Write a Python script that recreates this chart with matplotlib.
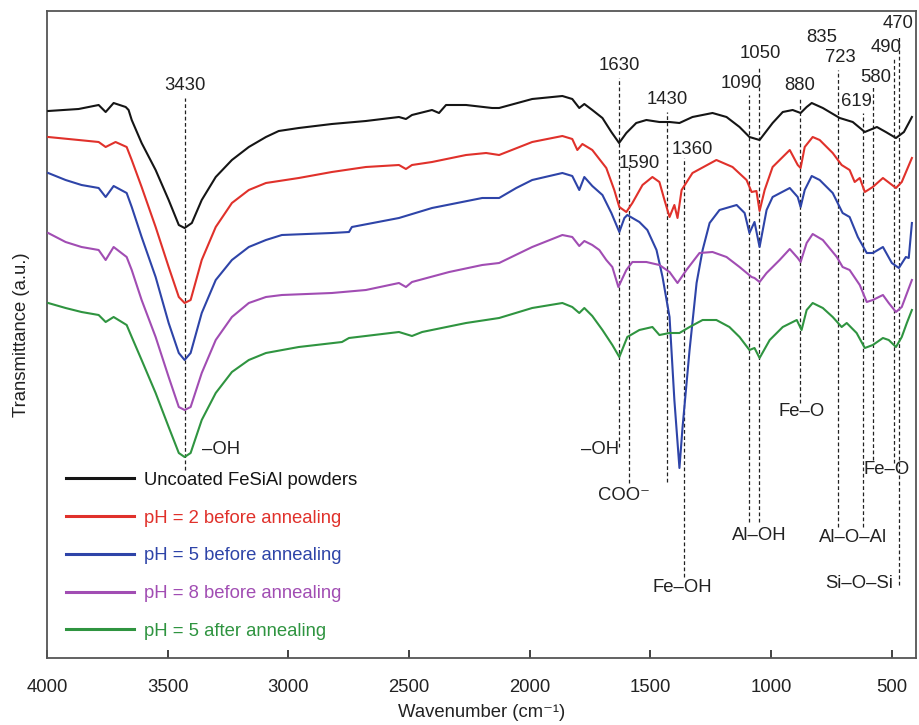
import matplotlib
matplotlib.use("Agg")
import matplotlib.pyplot as plt

plt.rcParams['font.family'] = ['Liberation Sans', 'DejaVu Sans']

# ---------------- data (wavenumber, transmittance a.u.) ----------------
wn_uncoated = [3995, 3869, 3786, 3757, 3724, 3674, 3662, 3649, 3608, 3550, 3496, 3454, 3430, 3400,
               3359, 3301, 3234, 3164, 3093, 3040, 2957, 2820, 2679, 2542, 2513, 2488, 2405, 2376,
               2347, 2264, 2156, 2127, 1990, 1865, 1824, 1795, 1774, 1741, 1699, 1662, 1630, 1600,
               1559, 1517, 1463, 1421, 1380, 1326, 1243, 1185, 1131, 1090, 1048, 994, 952, 911,
               878, 853, 832, 786, 716, 662, 612, 562, 525, 483, 450, 430, 417]
t_uncoated = [547, 549, 553, 546, 555, 551, 548, 538, 515, 488, 458, 433, 430, 435,
              458, 481, 498, 511, 521, 527, 530, 534, 537, 541, 539, 543, 548, 545,
              553, 553, 550, 550, 559, 562, 559, 550, 554, 548, 540, 526, 515, 525,
              535, 538, 536, 536, 535, 541, 545, 541, 531, 521, 518, 535, 546, 548,
              545, 551, 555, 550, 540, 536, 526, 531, 526, 520, 526, 535, 541]

wn_ph2 = [3995, 3869, 3786, 3757, 3716, 3670, 3649, 3608, 3550, 3496, 3454, 3430, 3405, 3359,
          3301, 3234, 3164, 3093, 2957, 2820, 2679, 2542, 2513, 2488, 2405, 2264, 2181, 2127,
          1990, 1865, 1824, 1803, 1782, 1741, 1683, 1650, 1629, 1600, 1575, 1533, 1492, 1463,
          1442, 1421, 1401, 1388, 1371, 1326, 1227, 1160, 1102, 1081, 1061, 1048, 1027, 994,
          923, 890, 878, 861, 828, 799, 745, 708, 675, 654, 633, 612, 579, 537, 483, 459, 417]
t_ph2 = [521, 518, 516, 511, 516, 511, 498, 471, 431, 391, 361, 355, 358, 398,
         431, 455, 468, 475, 480, 486, 491, 493, 489, 493, 496, 503, 505, 503,
         516, 522, 519, 508, 514, 508, 490, 468, 451, 446, 455, 473, 481, 476,
         458, 441, 453, 440, 468, 485, 498, 491, 478, 466, 467, 447, 468, 491,
         508, 493, 490, 511, 521, 518, 505, 493, 488, 476, 480, 466, 471, 480, 470, 476, 500]

wn_ph5 = [3995, 3923, 3857, 3786, 3757, 3724, 3670, 3649, 3608, 3550, 3496, 3454, 3430, 3405,
          3359, 3301, 3234, 3164, 3093, 3027, 2820, 2749, 2737, 2542, 2405, 2197, 2127, 2056,
          1990, 1865, 1824, 1795, 1774, 1741, 1699, 1662, 1629, 1608, 1596, 1546, 1513, 1475,
          1450, 1421, 1401, 1380, 1367, 1338, 1309, 1284, 1255, 1214, 1143, 1110, 1090, 1069,
          1048, 1019, 994, 923, 890, 878, 861, 832, 799, 745, 704, 675, 641, 604, 579, 537,
          500, 471, 442, 430, 417]
t_ph5 = [485, 478, 473, 470, 461, 472, 465, 451, 421, 381, 335, 305, 298, 305,
         345, 378, 398, 411, 418, 423, 425, 426, 431, 440, 450, 460, 460, 470,
         478, 485, 482, 468, 481, 472, 463, 445, 426, 440, 443, 436, 428, 408,
         381, 341, 258, 190, 231, 308, 375, 408, 435, 448, 453, 445, 425, 436,
         411, 448, 461, 470, 461, 451, 468, 482, 478, 465, 445, 441, 421, 405, 405, 411,
         395, 390, 401, 400, 435]

wn_ph8 = [3995, 3923, 3857, 3786, 3757, 3724, 3670, 3649, 3608, 3550, 3496, 3454, 3430, 3405,
          3359, 3301, 3234, 3164, 3093, 3027, 2820, 2679, 2542, 2513, 2488, 2334, 2197, 2127,
          1990, 1865, 1824, 1795, 1774, 1741, 1712, 1683, 1658, 1633, 1600, 1575, 1517, 1463,
          1421, 1388, 1351, 1297, 1243, 1185, 1131, 1081, 1069, 1048, 1019, 965, 923, 890,
          878, 853, 828, 786, 728, 704, 675, 633, 604, 579, 537, 513, 483, 459, 417]
t_ph8 = [425, 416, 411, 408, 398, 411, 401, 388, 358, 321, 281, 251, 248, 251,
         285, 318, 341, 355, 361, 363, 365, 368, 375, 371, 376, 386, 393, 395,
         411, 423, 421, 412, 417, 413, 408, 398, 391, 371, 388, 396, 396, 393,
         386, 375, 388, 405, 406, 401, 391, 381, 380, 376, 385, 398, 409, 400,
         396, 415, 424, 418, 401, 391, 388, 373, 356, 358, 363, 355, 346, 351, 378]

wn_ph5a = [3995, 3923, 3857, 3786, 3757, 3724, 3670, 3649, 3608, 3550, 3496, 3454, 3430, 3405,
           3359, 3301, 3234, 3164, 3093, 2957, 2778, 2749, 2542, 2488, 2446, 2264, 2127, 1990,
           1865, 1824, 1795, 1774, 1741, 1699, 1658, 1629, 1596, 1546, 1492, 1463, 1421, 1380,
           1338, 1284, 1227, 1173, 1131, 1090, 1069, 1048, 1006, 952, 894, 874, 853, 828, 786,
           745, 708, 687, 646, 612, 579, 537, 513, 483, 459, 438, 417]
t_ph5a = [355, 350, 346, 343, 336, 341, 333, 321, 298, 265, 231, 205, 201, 205,
          238, 265, 286, 298, 305, 311, 316, 320, 326, 322, 326, 335, 340, 350,
          355, 351, 345, 350, 342, 328, 313, 301, 321, 328, 331, 323, 325, 325,
          331, 338, 338, 331, 321, 308, 310, 300, 318, 331, 338, 328, 348, 355, 350,
          341, 331, 335, 325, 310, 313, 320, 318, 311, 321, 335, 348]

series_labels = ["Uncoated FeSiAl powders", "pH = 2 before annealing", "pH = 5 before annealing",
                 "pH = 8 before annealing", "pH = 5 after annealing"]
series_colors = ["#151515", "#e0312b", "#2e44a8", "#a14db3", "#2f9440"]

# peak markers: wavenumber, top of dashed line, bottom of dashed line (a.u.)
peak_wn = [3430, 1630, 1590, 1430, 1360, 1090, 1050, 880, 723, 619, 580, 490, 470]
peak_top = [560, 580, 491, 546, 500, 563, 591, 561, 588, 545, 571, 601, 623]
peak_bot = [188, 211, 175, 176, 81, 136, 136, 255, 131, 131, 198, 195, 73]

# number labels: text, x (wavenumber), y (a.u.)
num_labels = [("3430", 3430, 573), ("1630", 1630, 593), ("1590", 1545, 495), ("1430", 1430, 559),
              ("1360", 1325, 508), ("1090", 1125, 575), ("1050", 1045, 605), ("880", 880, 572),
              ("835", 790, 621), ("723", 712, 601), ("619", 648, 557), ("580", 565, 581),
              ("490", 525, 611), ("470", 475, 635)]
# group labels
grp_labels = [("–OH", 3280, 208), ("–OH", 1710, 208), ("COO⁻", 1610, 163), ("Fe–OH", 1370, 70),
              ("Al–OH", 1050, 123), ("Fe–O", 875, 246), ("Al–O–Al", 660, 121), ("Fe–O", 520, 188),
              ("Si–O–Si", 635, 75)]

# ---------------- figure ----------------
fig = plt.figure(figsize=(9.19, 7.25), dpi=100)
ax = fig.add_axes([47 / 919, 67 / 725, 869 / 919, 647 / 725])

all_wn = [wn_uncoated, wn_ph2, wn_ph5, wn_ph8, wn_ph5a]
all_t = [t_uncoated, t_ph2, t_ph5, t_ph8, t_ph5a]
for w, t, lab, c in zip(all_wn, all_t, series_labels, series_colors):
    ax.plot(w, t, color=c, lw=1.5, label=lab, zorder=3)

for w, top, bot in zip(peak_wn, peak_top, peak_bot):
    ax.plot([w, w], [bot, top], color="#222222", lw=0.9, ls=(0, (3, 2)), zorder=2)

fs = 13.3
for txt, x, y in num_labels:
    ax.text(x, y, txt, ha="center", va="center", fontsize=fs, color="#222222")
for txt, x, y in grp_labels:
    ax.text(x, y, txt, ha="center", va="center", fontsize=fs, color="#222222",
            family=['Liberation Sans', 'DejaVu Sans'])

ax.set_xlim(4000, 400)
ax.set_ylim(0, 647)
ax.set_xticks([4000, 3500, 3000, 2500, 2000, 1500, 1000, 500])
ax.set_yticks([])
ax.tick_params(axis="x", direction="in", length=6, width=1.2, pad=15, labelsize=fs,
               colors="#222222")
for s in ax.spines.values():
    s.set_color("#555555")
    s.set_linewidth(1.3)

ax.set_xlabel("Wavenumber (cm⁻¹)", fontsize=fs, color="#222222", labelpad=6)
ax.set_ylabel("Transmittance (a.u.)", fontsize=fs, color="#222222", labelpad=12)

leg = ax.legend(loc="upper left", bbox_to_anchor=(0.013, 0.299), frameon=False, fontsize=fs,
                handlelength=3.7, handletextpad=0.55, labelspacing=1.12, labelcolor="linecolor",
                borderaxespad=0)
for h in leg.get_lines():
    h.set_linewidth(2.2)

fig.savefig("out.png", dpi=100)
